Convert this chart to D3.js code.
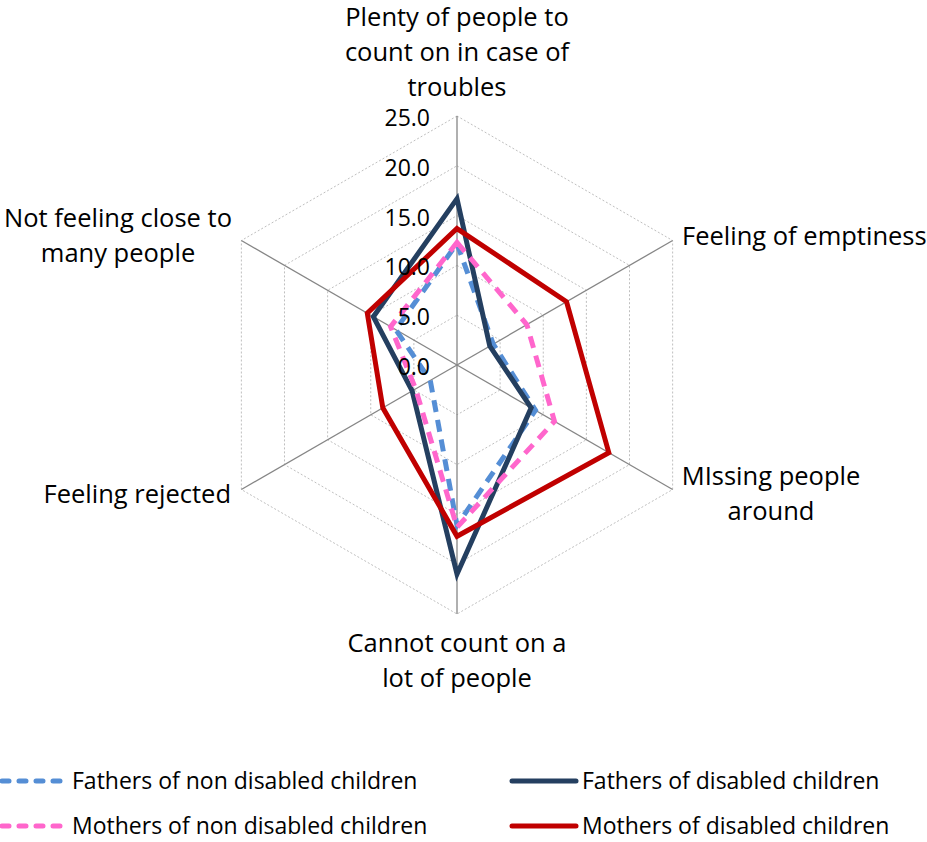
<!DOCTYPE html>
<html>
<head>
<meta charset="utf-8">
<script src="https://cdn.jsdelivr.net/npm/d3@7"></script>
<style>
  body { margin: 0; background: #fff; }
  text { font-family: "Open Sans", Lato, sans-serif; fill: #000; }
</style>
</head>
<body>
<svg id="chart" width="927" height="842"></svg>
<script>
// axes, clockwise from the top
const categories = [
    ["Plenty of people to", "count on in case of", "troubles"],
    ["Feeling of emptiness"],
    ["MIssing people", "around"],
    ["Cannot count on a", "lot of people"],
    ["Feeling rejected"],
    ["Not feeling close to", "many people"]
];
const ticks = [0, 5, 10, 15, 20, 25];

const seriesNames = [
    "Fathers of non disabled children",
    "Fathers of disabled children",
    "Mothers of non disabled children",
    "Mothers of disabled children"
];
const fathersNonDisabled = [12.2, 4.2, 9.1, 16.1, 3.1, 7.1];
const fathersDisabled = [16.7, 3.8, 8.6, 21.0, 5.2, 9.7];
const mothersNonDisabled = [12.3, 8.1, 11.3, 16.3, 4.8, 7.7];
const mothersDisabled = [13.7, 12.7, 17.6, 17.2, 8.6, 10.4];

const seriesStyle = [
    { color: "#558ED5", dash: "12,8" },
    { color: "#243F60", dash: null },
    { color: "#FF66CC", dash: "12,8" },
    { color: "#C00000", dash: null }
];
const allSeries = [fathersNonDisabled, fathersDisabled, mothersNonDisabled, mothersDisabled];

const svg = d3.select("#chart");
const cx = 457, cy = 365;

const r = d3.scaleLinear().domain([0, 25]).range([0, 249]);
const angle = i => -Math.PI / 2 + i * Math.PI / 3;

function point(i, v) {
    return [cx + r(v) * Math.cos(angle(i)), cy + r(v) * Math.sin(angle(i))];
}

let grid = svg.append("g");

// dotted rings
ticks.slice(1).forEach(t => {
    grid.append("polygon")
        .attr("points", categories.map((c, i) => point(i, t).join(",")).join(" "))
        .attr("fill", "none")
        .attr("stroke", "#BFBFBF")
        .attr("stroke-width", 1)
        .attr("stroke-dasharray", "2,2");
});

// spokes
categories.forEach((c, i) => {
    let p = point(i, 25);
    grid.append("line")
        .attr("x1", cx).attr("y1", cy)
        .attr("x2", p[0]).attr("y2", p[1])
        .attr("stroke", "#868686")
        .attr("stroke-width", 1.3);
});

// series
let line = d3.line().curve(d3.curveLinearClosed);
allSeries.forEach((vals, s) => {
    svg.append("path")
        .attr("d", line(vals.map((v, i) => point(i, v))))
        .attr("fill", "none")
        .attr("stroke", seriesStyle[s].color)
        .attr("stroke-width", 5)
        .attr("stroke-linejoin", "miter")
        .attr("stroke-dasharray", seriesStyle[s].dash);
});

// tick labels
ticks.forEach(t => {
    svg.append("text")
        .attr("x", 430)
        .attr("y", cy - r(t) + 2)
        .attr("dy", "0.35em")
        .attr("text-anchor", "end")
        .style("font-size", "23px")
        .text(t.toFixed(1));
});

// category labels
const labelPos = [
    { x: 457, y: 17, anchor: "middle" },
    { x: 682, y: 236, anchor: "start" },
    { x: 771, y: 476, anchor: "middle" },
    { x: 457, y: 643, anchor: "middle" },
    { x: 231, y: 494, anchor: "end" },
    { x: 118, y: 218, anchor: "middle" }
];
categories.forEach((lines, i) => {
    let t = svg.append("text")
        .attr("text-anchor", labelPos[i].anchor)
        .style("font-size", "25.5px");
    lines.forEach((l, k) => {
        t.append("tspan")
            .attr("x", labelPos[i].x)
            .attr("y", labelPos[i].y + k * 35)
            .attr("dy", "0.35em")
            .text(l);
    });
});

// legend
const legendPos = [[2, 781], [512, 781], [2, 826], [512, 826]];
seriesNames.forEach((name, s) => {
    let [lx, ly] = legendPos[s];
    svg.append("line")
        .attr("x1", lx).attr("y1", ly)
        .attr("x2", lx + 64).attr("y2", ly)
        .attr("stroke", seriesStyle[s].color)
        .attr("stroke-width", 5)
        .attr("stroke-linecap", "round")
        .attr("stroke-dasharray", seriesStyle[s].dash ? "7,10" : null);
    svg.append("text")
        .attr("x", lx + 70)
        .attr("y", ly)
        .attr("dy", "0.35em")
        .style("font-size", "23px")
        .text(name);
});
</script>
</body>
</html>
